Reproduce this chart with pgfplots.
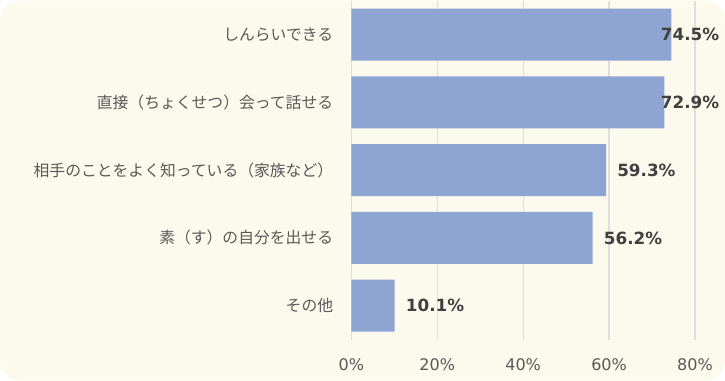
\documentclass[border=0pt]{standalone}
\usepackage{fontspec}
\setmainfont{DejaVu Sans}
\newfontfamily\jp{Noto Sans CJK JP}
\usepackage{pgfplots}
\usepackage{pgfplotstable}
\pgfplotsset{compat=1.18}
\definecolor{bg}{RGB}{252,250,236}
\definecolor{barc}{RGB}{142,165,212}
\definecolor{gridc}{RGB}{222,222,222}
\definecolor{lab}{RGB}{89,89,89}
\definecolor{val}{RGB}{64,64,64}
\pgfplotstableread{
y v dx
0 74.5 -10.6
1 72.9 -3.8
2 59.3 11
3 56.2 11
4 10.1 11
}\datatable
\begin{document}
\begin{tikzpicture}
\fill[bg, rounded corners=20bp] (0bp,0bp) rectangle (725bp,380bp);
\begin{axis}[
 at={(351.3bp,41bp)}, anchor=south west,
 scale only axis, width=343.7bp, height=339bp,
 xbar, bar width=52bp,
 xmin=0, xmax=80, ymin=-0.5, ymax=4.5, y dir=reverse,
 ytick={0,1,2,3,4},
 yticklabels={しんらいできる,直接（ちょくせつ）会って話せる,相手のことをよく知っている（家族など）,素（す）の自分を出せる,その他},
 yticklabel style={font=\jp\fontsize{15.8bp}{18bp}\selectfont, text=lab, anchor=east, inner sep=0pt, xshift=-18bp},
 xtick={0,20,40,60,80}, xticklabels={0\%,20\%,40\%,60\%,80\%},
 xticklabel style={font=\fontsize{16bp}{18bp}\selectfont, text=lab, anchor=center, inner sep=0pt, yshift=-25bp},
 xmajorgrids, grid style={draw=gridc, line width=1.2bp},
 axis line style={draw=none}, major tick length=0,
 clip=false,
 /pgf/number format/assume math mode=true,
 nodes near coords={\pgfmathprintnumber[fixed,precision=1,fixed zerofill]{\pgfplotspointmeta}\%},
 visualization depends on={\thisrow{dx} \as \dx},
 every node near coord/.append style={anchor=west, xshift=\dx*1bp, inner sep=0pt, text=val, font=\bfseries\fontsize{16.8bp}{18bp}\selectfont},
]
\addplot[draw=none, fill=barc] table[x=v, y=y] {\datatable};
\end{axis}
\end{tikzpicture}
\end{document}
